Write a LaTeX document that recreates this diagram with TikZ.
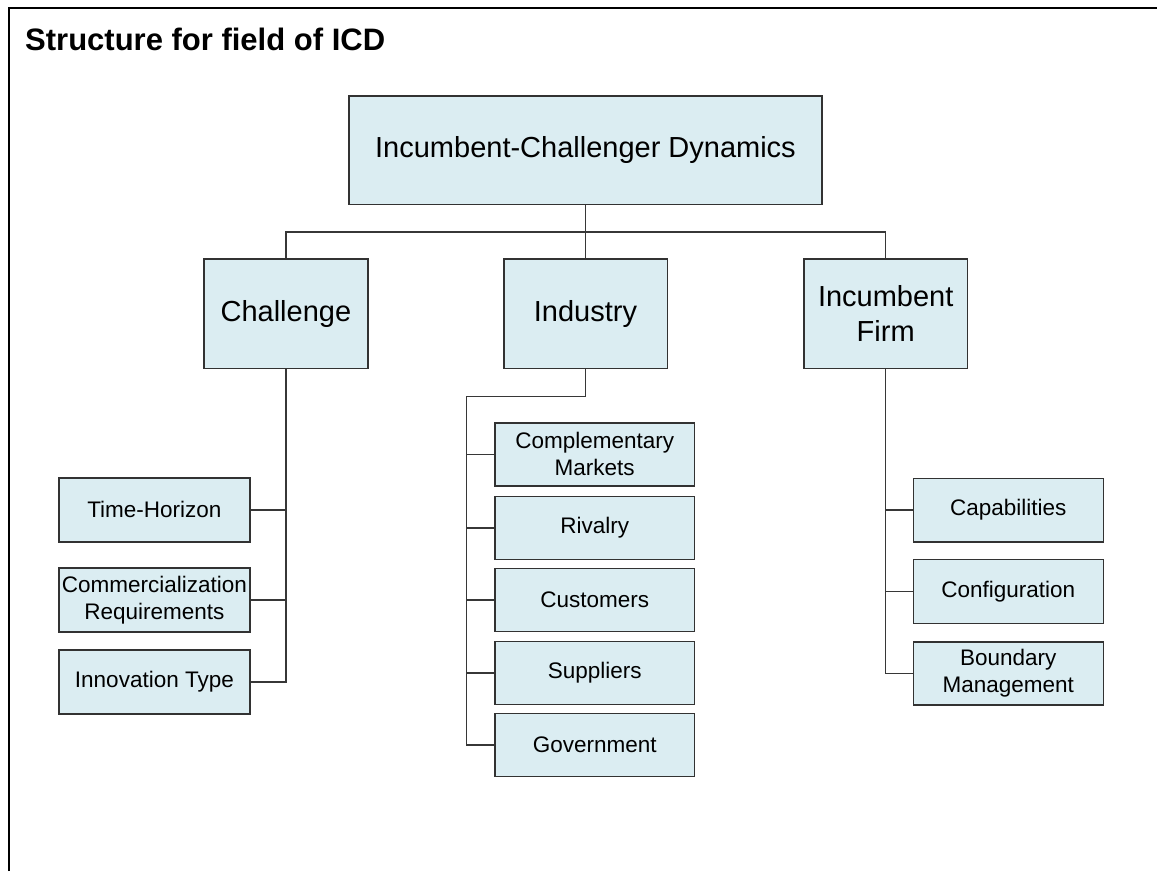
\documentclass[tikz,border=0pt]{standalone}
\usepackage{fontspec}
\setmainfont{Liberation Sans}
\begin{document}
\definecolor{boxfill}{RGB}{219,237,242}
\definecolor{boxline}{RGB}{50,50,50}
\definecolor{wire}{RGB}{55,55,55}
\begin{tikzpicture}[x=1pt,y=-1pt,
  box/.style={draw=boxline,line width=1.6pt,fill=boxfill,inner sep=0pt,align=center,
              font=\fontsize{22.5}{27}\selectfont},
  bigbox/.style={box,font=\fontsize{29}{35}\selectfont},
  wirestyle/.style={draw=wire,line width=1.5pt}]
  % page and frame
  \fill[white] (0,0) rectangle (1157,871);
  \useasboundingbox (0,0) rectangle (1157,871);
  \draw[line width=2.8pt,line join=miter] (9,871) -- (9,8) -- (1157,8);

  % title
  \node[anchor=base west,inner sep=0pt,font=\fontsize{31}{37}\bfseries\selectfont] (title) at (25,50) {Structure for field of ICD};

  % root
  \node[bigbox,minimum width=472.5pt,minimum height=108.8pt] (root) at (585.5,150.1) {Incumbent-Challenger Dynamics};

  % second level
  \node[bigbox,minimum width=163.6pt,minimum height=109.5pt] (chal) at (285.9,313.8) {Challenge};
  \node[bigbox,minimum width=163.6pt,minimum height=109.5pt] (ind)  at (585.5,313.8) {Industry};
  \node[bigbox,minimum width=163.6pt,minimum height=109.5pt] (firm) at (885.7,313.8) {Incumbent\\Firm};

  % challenge branch
  \node[box,minimum width=191.3pt,minimum height=63.8pt] (th) at (154.4,509.9) {Time-Horizon};
  \node[box,minimum width=191.3pt,minimum height=64.3pt] (cr) at (154.4,599.9) {Commercialization\\Requirements};
  \node[box,minimum width=191.3pt,minimum height=64pt]   (it) at (154.4,682) {Innovation Type};

  % industry branch
  \node[box,minimum width=199.3pt,minimum height=63.3pt] (cm)   at (594.7,454.4) {Complementary\\Markets};
  \node[box,minimum width=199.3pt,minimum height=63.3pt] (riv)  at (594.7,528)   {Rivalry};
  \node[box,minimum width=199.3pt,minimum height=63.3pt] (cust) at (594.7,600)   {Customers};
  \node[box,minimum width=199.3pt,minimum height=63.3pt] (supp) at (594.7,673)   {Suppliers};
  \node[box,minimum width=199.3pt,minimum height=63.3pt] (gov)  at (594.7,745)   {Government};

  % incumbent firm branch
  \node[box,minimum width=190pt,minimum height=63.4pt] (cap)  at (1008.3,510)   {Capabilities};
  \node[box,minimum width=190pt,minimum height=64pt]   (conf) at (1008.3,591.3) {Configuration};
  \node[box,minimum width=190pt,minimum height=63.3pt] (bm)   at (1008.3,673.4) {Boundary\\Management};

  % connectors
  \coordinate (bus) at (585.5,232.2);
  \coordinate (indbend) at (466.7,396.7);
  \begin{scope}[wirestyle]
    \draw (root.south) -- (ind.north);
    \draw (chal.north) |- (bus) -| (firm.north);

    \draw (chal.south) |- (it.east);
    \draw (th.east) -- (th.east -| chal.south);
    \draw (cr.east) -- (cr.east -| chal.south);

    \draw (ind.south) |- (indbend) |- (gov.west);
    \draw (cm.west)   -- (cm.west -| indbend);
    \draw (riv.west)  -- (riv.west -| indbend);
    \draw (cust.west) -- (cust.west -| indbend);
    \draw (supp.west) -- (supp.west -| indbend);

    \draw (firm.south) |- (bm.west);
    \draw (cap.west)  -- (cap.west -| firm.south);
    \draw (conf.west) -- (conf.west -| firm.south);
  \end{scope}
\end{tikzpicture}
\end{document}
